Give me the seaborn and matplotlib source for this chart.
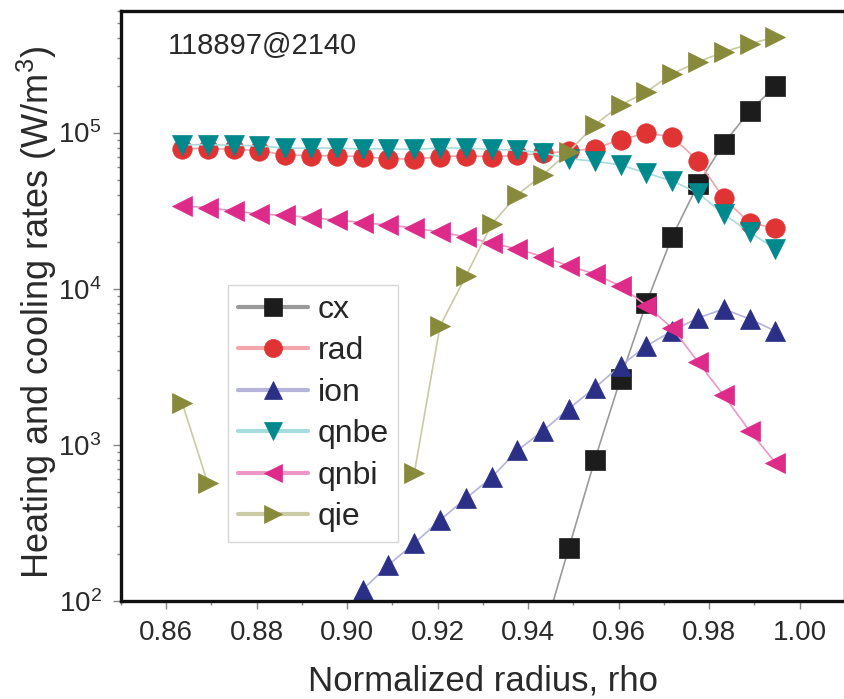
import numpy as np
import pandas as pd
import seaborn as sns
import matplotlib.pyplot as plt
from matplotlib.ticker import MultipleLocator, FormatStrFormatter

# normalized radius grid
rho = [0.8635, 0.8692, 0.8749, 0.8806, 0.8863, 0.8920, 0.8977, 0.9034,
       0.9091, 0.9148, 0.9205, 0.9262, 0.9319, 0.9376, 0.9433, 0.9490,
       0.9547, 0.9604, 0.9661, 0.9718, 0.9775, 0.9832, 0.9889, 0.9946]

nan = np.nan
cx = [nan, nan, nan, nan, nan, nan, nan, nan, nan, nan, nan, nan, nan, nan,
      60, 220, 800, 2650, 8100, 21500, 46500, 85000, 137000, 198000]
rad = [79000, 79000, 78000, 76500, 72000, 71000, 71000, 70000, 68000, 67500,
       70000, 71000, 70000, 71500, 73500, 76000, 79000, 90000, 99000, 94000,
       66000, 38000, 26400, 24500]
ion = [nan, nan, nan, nan, nan, nan, nan, 118, 170, 234, 329, 454, 618, 920,
       1234, 1705, 2323, 3208, 4303, 5360, 6490, 7410, 6400, 5360]
qnbe = [83500, 83500, 83000, 82000, 79500, 79500, 79500, 78500, 78500, 78000,
        79500, 79500, 78000, 77000, 74000, 68000, 65500, 62000, 55000, 49000,
        41000, 30000, 23000, 18000]
qnbi = [34000, 33000, 31500, 30000, 29500, 28500, 27500, 26500, 25500, 24500,
        23000, 21500, 19500, 18000, 16000, 14000, 12400, 10400, 7800, 5600,
        3400, 2070, 1230, 770]
qie = [1860, 566, nan, nan, nan, nan, nan, nan, nan, 656, 5770, 12000, 25800,
       40000, 53800, 75500, 112000, 150000, 182000, 238000, 283000, 328000,
       369000, 409000]

series = [
    ("cx", cx, "s", "#1c1c1c", "#9a9a9a"),
    ("rad", rad, "o", "#e03434", "#f2a6aa"),
    ("ion", ion, "^", "#2b2f86", "#b4b4dc"),
    ("qnbe", qnbe, "v", "#00898c", "#a8dcdc"),
    ("qnbi", qnbi, "<", "#de2a88", "#f096c4"),
    ("qie", qie, ">", "#878a3a", "#cacaa4"),
]

sns.set_style("ticks")
plt.rcParams["font.family"] = ["Liberation Sans", "DejaVu Sans"]
plt.rcParams["mathtext.default"] = "regular"

fig = plt.figure(figsize=(8.44, 6.99), dpi=100)
ax = fig.add_axes([121 / 844, 98 / 699, 724 / 844, 590 / 699])

for name, vals, mk, mcol, lcol in series:
    df = pd.DataFrame({"rho": rho, "val": vals})
    # split into contiguous pieces so gaps are not bridged
    seg = df["val"].isna().cumsum()
    df = df.assign(seg=seg).dropna()
    first = True
    for _, part in df.groupby("seg"):
        sns.lineplot(data=part, x="rho", y="val", ax=ax, color=lcol, lw=1.2,
                     marker=mk, markersize=14, markerfacecolor=mcol,
                     markeredgecolor=mcol, markeredgewidth=0.5,
                     label=name if first else "_nolegend_")
        first = False

ax.set_yscale("log")
ax.set_xlim(0.85, 1.01)
ax.set_ylim(100, 6e5)
ax.xaxis.set_major_locator(MultipleLocator(0.02))
ax.xaxis.set_minor_locator(MultipleLocator(0.01))
ax.xaxis.set_major_formatter(FormatStrFormatter("%.2f"))

for s in ax.spines.values():
    s.set_linewidth(2.4)
    s.set_color("#111111")
ax.tick_params(axis="both", which="major", direction="out", length=6, width=1,
               color="#888888", labelsize=20, labelcolor="#2a2a2a", pad=8)
ax.tick_params(axis="both", which="minor", direction="out", length=3, width=1,
               color="#888888")

ax.set_xlabel("Normalized radius, rho", fontsize=25, color="#2a2a2a", labelpad=13)
ax.set_ylabel("Heating and cooling rates (W/m$^3$)", fontsize=26, color="#2a2a2a")
ax.yaxis.set_label_coords(-0.086, 0.49)

ax.text(0.065, 0.941, "118897@2140", transform=ax.transAxes, fontsize=21,
        color="#2a2a2a", ha="left", va="center")

leg = ax.legend(loc="upper left", bbox_to_anchor=(0.148, 0.535), fontsize=23,
                frameon=True, fancybox=False, borderaxespad=0, handlelength=2.2,
                handletextpad=0.3, labelspacing=0.36, borderpad=0.3)
leg.get_frame().set_edgecolor("#cccccc")
leg.get_frame().set_linewidth(1.0)
for h in leg.legend_handles:
    h.set_linewidth(3)
    h.set_markersize(13)

fig.savefig("out.png", dpi=100)
